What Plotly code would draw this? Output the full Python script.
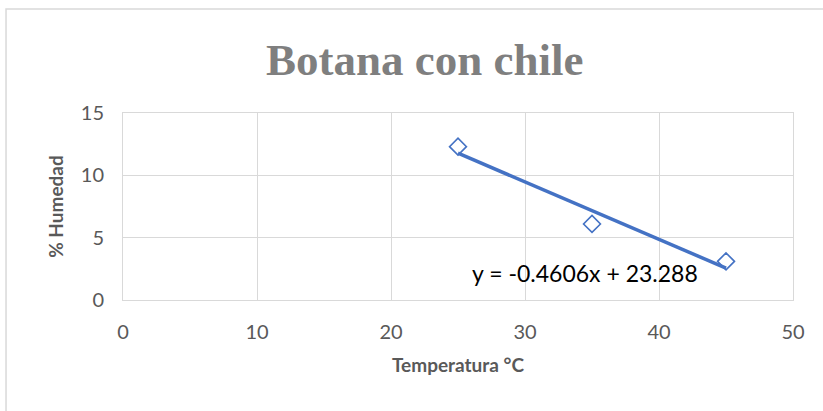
import plotly.graph_objects as go

# Measured samples
temperatura = [25, 35, 45]
humedad = [12.3, 6.1, 3.1]

# Linear trend: y = m*x + b
pendiente = -0.4606
intercepto = 23.288
trend_x = [min(temperatura), max(temperatura)]
trend_y = [pendiente * x + intercepto for x in trend_x]

azul = "#4472C4"
gris_txt = "#595959"
grid = "#D9D9D9"

fig = go.Figure()
fig.add_trace(go.Scatter(
    x=temperatura, y=humedad, mode="markers",
    marker=dict(symbol="diamond-open", size=13, color=azul, line=dict(width=1.6, color=azul)),
    showlegend=False, cliponaxis=False,
))
fig.add_trace(go.Scatter(
    x=trend_x, y=trend_y, mode="lines",
    line=dict(color=azul, width=3.5),
    showlegend=False,
))

fig.add_annotation(
    x=25.9, y=2.2, xref="x", yref="y", xanchor="left", yanchor="middle",
    text=f"y = {pendiente}x + {intercepto}", showarrow=False,
    font=dict(family="Lato, Liberation Sans, sans-serif", size=23, color="#000000"),
)

fig.update_layout(
    width=823, height=411,
    margin=dict(l=123, r=30, t=113, b=111),
    paper_bgcolor="white", plot_bgcolor="white",
    title=dict(
        text="<b>Botana con chile</b>", x=0.516, xanchor="center", y=0.855, yanchor="middle",
        font=dict(family="Liberation Serif, serif", size=45, color="#7F7F7F"),
    ),
    xaxis=dict(
        range=[0, 50], dtick=10, showgrid=True, gridcolor=grid, gridwidth=1,
        zeroline=False, showline=True, linecolor=grid, mirror=True,
        ticks="", ticklabelstandoff=14,
        tickfont=dict(family="Lato, Liberation Sans, sans-serif", size=20, color=gris_txt),
        title=dict(text="<b>Temperatura °C</b>", standoff=16,
                   font=dict(family="Lato, Liberation Sans, sans-serif", size=19, color=gris_txt)),
    ),
    yaxis=dict(
        range=[0, 15], dtick=5, showgrid=True, gridcolor=grid, gridwidth=1,
        zeroline=False, showline=True, linecolor=grid, mirror=True,
        ticks="", ticklabelstandoff=14,
        tickfont=dict(family="Lato, Liberation Sans, sans-serif", size=20, color=gris_txt),
        title=dict(text="<b>% Humedad</b>", standoff=12,
                   font=dict(family="Lato, Liberation Sans, sans-serif", size=19, color=gris_txt)),
    ),
    shapes=[dict(type="rect", xref="paper", yref="paper",
                 x0=-0.1746, x1=1.06, y0=-0.65, y1=1.556,
                 line=dict(color="#D9D9D9", width=1.5), fillcolor="rgba(0,0,0,0)", layer="below")],
)

fig.write_html("out.html")
